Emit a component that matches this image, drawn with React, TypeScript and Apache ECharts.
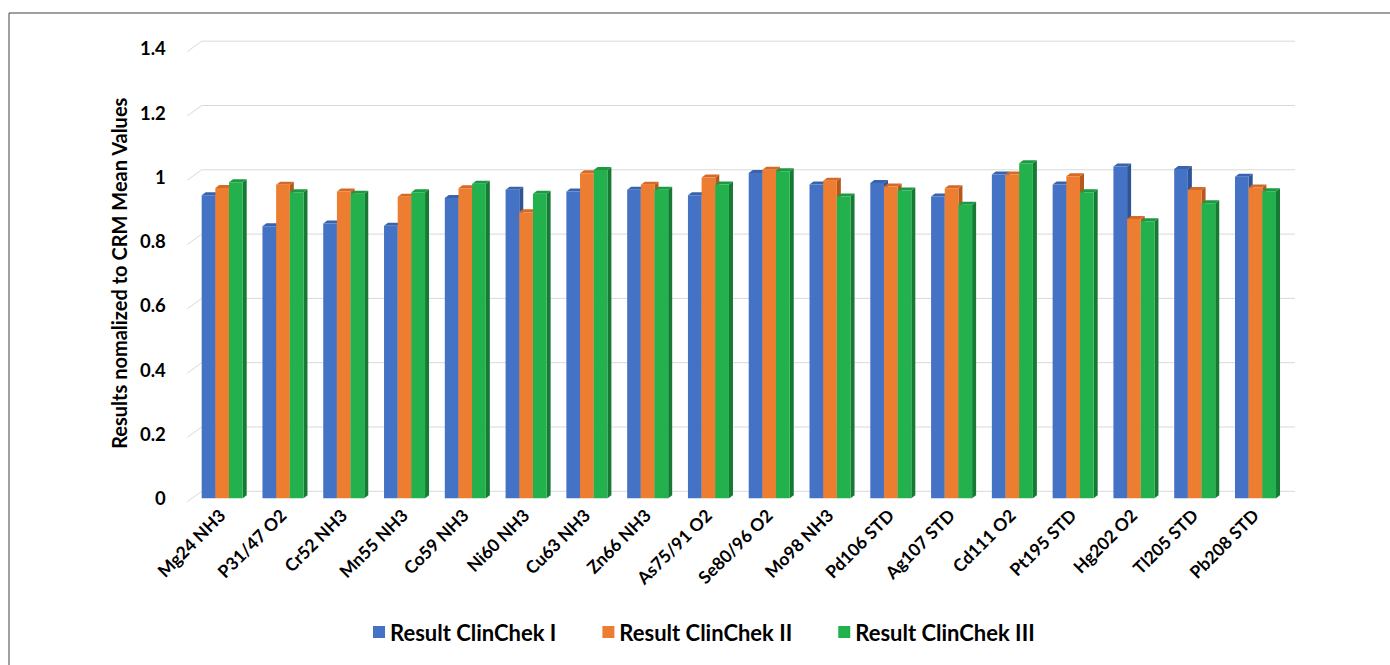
import React, { useEffect, useRef } from "react";
import * as echarts from "echarts";

const categories = [
  "Mg24 NH3", "P31/47 O2", "Cr52 NH3", "Mn55 NH3", "Co59 NH3", "Ni60 NH3",
  "Cu63 NH3", "Zn66 NH3", "As75/91 O2", "Se80/96 O2", "Mo98 NH3", "Pd106 STD",
  "Ag107 STD", "Cd111 O2", "Pt195 STD", "Hg202 O2", "Tl205 STD", "Pb208 STD",
];

const seriesNames = ["Result ClinChek I", "Result ClinChek II", "Result ClinChek III"];

const clinChekI = [0.943, 0.846, 0.855, 0.848, 0.934, 0.96, 0.954, 0.96, 0.943, 1.012, 0.976, 0.981, 0.939, 1.007, 0.976, 1.032, 1.024, 1.0];
const clinChekII = [0.965, 0.975, 0.954, 0.938, 0.964, 0.89, 1.011, 0.975, 0.998, 1.022, 0.988, 0.97, 0.964, 1.007, 1.002, 0.869, 0.959, 0.967];
const clinChekIII = [0.983, 0.952, 0.947, 0.952, 0.978, 0.947, 1.021, 0.96, 0.976, 1.017, 0.939, 0.957, 0.913, 1.042, 0.952, 0.862, 0.918, 0.955];

const yTicks = [0, 0.2, 0.4, 0.6, 0.8, 1.0, 1.2, 1.4];

const frontColors = ["#4472C4", "#ED7D31", "#22B14C"];
const sideColors = ["#2E5596", "#B5581B", "#167A35"];
const topColors = ["#3A63AD", "#D46A26", "#1B9A41"];

const FONT = "Lato, 'Open Sans', sans-serif";

function makeBarRender(s: number) {
  return (params: any, api: any) => {
    const i = api.value(0);
    const v = api.value(1);
    const top = api.coord([i, v]);
    const base = api.coord([i, 0]);
    const band = api.size([1, 0])[0];
    const bw = band * 0.225;
    const left = top[0] - 1.5 * bw + s * bw;
    const right = left + bw;
    const dx = 4;
    const dy = 3;
    const side = [
      [right, top[1]],
      [right + dx, top[1] - dy],
      [right + dx, base[1] - dy],
      [right, base[1]],
    ];
    const cap = [
      [left, top[1]],
      [left + dx, top[1] - dy],
      [right + dx, top[1] - dy],
      [right, top[1]],
    ];
    return {
      type: "group",
      children: [
        { type: "polygon", shape: { points: side }, style: { fill: sideColors[s] } },
        { type: "polygon", shape: { points: cap }, style: { fill: topColors[s] } },
        {
          type: "rect",
          shape: { x: left, y: top[1], width: bw, height: base[1] - top[1] },
          style: { fill: frontColors[s] },
        },
      ],
    };
  };
}

function gridRender(params: any, api: any) {
  const v = api.value(1);
  const y = api.coord([0, v])[1];
  const cs = params.coordSys;
  return {
    type: "polyline",
    shape: {
      points: [
        [cs.x - 4.5, y + 3.4],
        [cs.x + 9.9, y - 7],
        [cs.x + cs.width + 9.1, y - 7],
      ],
    },
    style: { stroke: "#D9D9D9", lineWidth: 1, fill: "none" },
  };
}

export default function App() {
  const ref = useRef<HTMLDivElement>(null);
  useEffect(() => {
    if (!ref.current) return;
    const chart = echarts.init(ref.current, undefined, { renderer: "svg" });
    const allValues = [clinChekI, clinChekII, clinChekIII];
    const option: any = {
      animation: false,
      backgroundColor: "#ffffff",
      textStyle: { fontFamily: FONT },
      graphic: [
        {
          type: "rect",
          left: 6.5,
          top: 10.5,
          shape: { width: 1600, height: 900 },
          style: { fill: "none", stroke: "#404040", lineWidth: 1 },
          silent: true,
        },
      ],
      grid: { left: 191.8, right: 104.1, top: 48.2, bottom: 166.7 },
      legend: {
        left: 373,
        top: 621,
        itemWidth: 12,
        itemHeight: 12,
        itemGap: 46,
        padding: 0,
        icon: "rect",
        data: seriesNames,
        textStyle: { fontFamily: FONT, fontSize: 22, fontWeight: "bold", color: "#000" },
      },
      xAxis: {
        type: "category",
        data: categories,
        axisLine: { show: false },
        axisTick: { show: false },
        axisLabel: {
          rotate: 45,
          margin: 14,
          interval: 0,
          fontFamily: FONT,
          fontSize: 17.5,
          fontWeight: "bold",
          color: "#000",
        },
      },
      yAxis: {
        type: "value",
        min: 0,
        max: 1.4,
        interval: 0.2,
        name: "Results nomalized to CRM Mean Values",
        nameLocation: "middle",
        nameGap: 56,
        nameTextStyle: { fontFamily: FONT, fontSize: 20, fontWeight: "bold", color: "#000" },
        axisLine: { show: false },
        axisTick: { show: false },
        splitLine: { show: false },
        axisLabel: {
          margin: 26,
          fontFamily: FONT,
          fontSize: 18.5,
          fontWeight: "bold",
          color: "#000",
        },
      },
      series: [
        {
          type: "custom",
          name: "grid",
          silent: true,
          z: 1,
          renderItem: gridRender,
          encode: { x: 0, y: 1 },
          data: yTicks.map((v) => [0, v]),
        },
        ...seriesNames.map((name, s) => ({
          type: "custom",
          name,
          z: 2,
          itemStyle: { color: frontColors[s] },
          renderItem: makeBarRender(s),
          encode: { x: 0, y: 1 },
          data: categories.map((c, i) => [i, allValues[s][i]]),
        })),
      ],
    };
    chart.setOption(option);
    return () => chart.dispose();
  }, []);
  return (
    <div
      ref={ref}
      style={{ position: "absolute", left: 0, top: 0, width: 1390, height: 665 }}
    />
  );
}
